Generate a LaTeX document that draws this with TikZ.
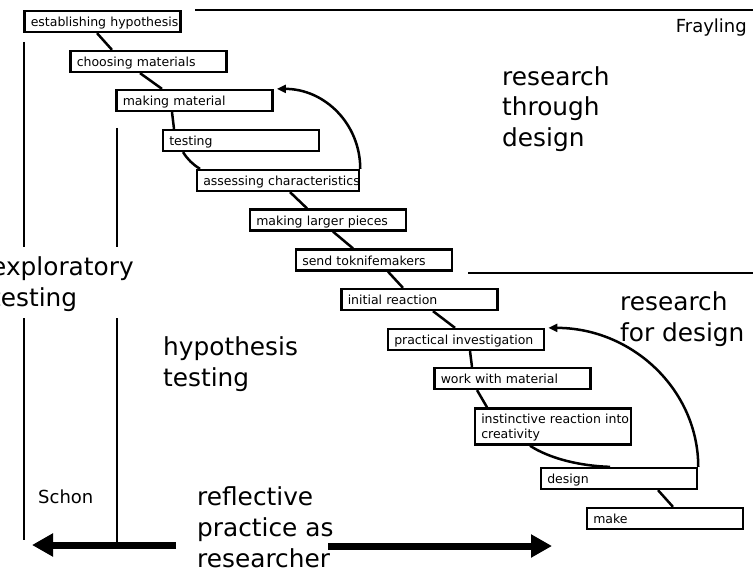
\documentclass[tikz,border=0pt]{standalone}
\usepackage{fontspec}
\setmainfont{DejaVu Sans}
\usetikzlibrary{arrows.meta}
\begin{document}
\begin{tikzpicture}[x=1pt,y=-1pt,
  stepbox/.style={draw, line width=2.5pt, fill=white, inner xsep=6.25pt, inner ysep=3pt,
    text width=143.5pt, align=left, text height=12.5pt, text depth=2.25pt,
    font=\fontsize{12.5}{15}\selectfont},
  link/.style={line width=2.5pt},
  feedback/.style={line width=2.5pt, -{Triangle[length=9pt,width=8pt]}},
  rule/.style={line width=2pt},
  bigarrow/.style={line width=7pt, -{Triangle[length=21pt,width=22pt]}},
  bigtext/.style={align=left, inner sep=0pt, font=\fontsize{24.8}{31}\selectfont},
  midtext/.style={inner sep=0pt, font=\fontsize{18}{22}\selectfont}
]
\useasboundingbox (0,0) rectangle (753,575);
\clip (0,0) rectangle (753,575);

% process steps
\node[stepbox] (b1)  at (102.5,21.5) {\mbox{establishing hypothesis}};
\node[stepbox] (b2)  at (148.5,61.5) {choosing materials};
\node[stepbox] (b3)  at (194.5,100.5) {making material};
\node[stepbox] (b4)  at (241,140.5) {testing};
\node[stepbox, text width=149.5pt] (b5) at (278,180.5) {\mbox{assessing characteristics}};
\node[stepbox] (b6)  at (328,220) {\mbox{making larger pieces}};
\node[stepbox] (b7)  at (374,260) {send toknifemakers};
\node[stepbox] (b8)  at (419.5,299.5) {initial reaction};
\node[stepbox] (b9)  at (466,339.5) {\mbox{practical investigation}};
\node[stepbox] (b10) at (512.5,378.5) {work with material};
\node[stepbox, text height=11.75pt, text depth=18.25pt] (b11) at (553,426.5) {\mbox{instinctive reaction into}\\creativity};
\node[stepbox] (b12) at (619,478.5) {design};
\node[stepbox] (b13) at (665,518.5) {make};

% links between consecutive steps
\draw[link] ([xshift=-5.5pt]b1.south) -- ([xshift=-36.5pt]b2.north);
\draw[link] ([xshift=-8.5pt]b2.south) -- ([xshift=-32.5pt]b3.north);
\draw[link] ([xshift=-22.5pt]b3.south) -- ([xshift=-67pt]b4.north);
\draw[link] ([xshift=-58pt]b4.south) to[bend right=12] ([xshift=-78pt]b5.north);
\draw[link] ([xshift=12pt]b5.south) -- ([xshift=-21pt]b6.north);
\draw[link] ([xshift=5pt]b6.south) -- ([xshift=-21pt]b7.north);
\draw[link] ([xshift=14pt]b7.south) -- ([xshift=-16.5pt]b8.north);
\draw[link] ([xshift=13.5pt]b8.south) -- ([xshift=-11pt]b9.north);
\draw[link] ([xshift=4pt]b9.south) -- ([xshift=-40.5pt]b10.north);
\draw[link] ([xshift=-35.5pt]b10.south) -- ([xshift=-66pt]b11.north);
\draw[link] ([xshift=-23pt]b11.south) .. controls +(20,13) and +(-30,-1) .. ([xshift=-9pt]b12.north);
\draw[link] ([xshift=39pt]b12.south) -- ([xshift=8pt]b13.north);

% loops back
\draw[feedback] (b5.north east) .. controls +(0,-45) and +(48,0) .. ([xshift=3pt]b3.north east);
\draw[feedback] (b12.north east) .. controls +(0,-77) and +(84,0) .. ([xshift=3pt]b9.north east);

% dividing rules
\draw[rule] (195,10) -- (753,10);
\draw[rule] (468,273) -- (753,273);
\draw[rule] (24,42) -- (24,247);
\draw[rule] (24,318) -- (24,540);
\draw[rule] (117,128) -- (117,247);
\draw[rule] (117,318) -- (117,542);

% labels (base anchor sits on the last line)
\node[midtext, anchor=base east] (fray) at (747,33) {Frayling};
\node[bigtext, anchor=base west] (rtd) at (502,147) {research\\through\\design};
\node[bigtext, anchor=base west] (rfd) at (620,341) {research\\for design};
\node[bigtext, anchor=base west] (expl) at (-9,306) {exploratory\\testing};
\node[bigtext, anchor=base west] (hyp) at (163,386) {hypothesis\\testing};
\node[midtext, anchor=base west] (schon) at (38,503) {Schon};
\node[bigtext, anchor=base west] (refl) at (197,567) {reflective\\practice as\\researcher};

% reflective practice arrows
\coordinate (lstart) at (176,545);
\coordinate (lend) at (32,545);
\coordinate (rstart) at (328,546);
\coordinate (rend) at (552,546);
\draw[bigarrow] (lstart) -- (lend);
\draw[bigarrow] (rstart) -- (rend);
\end{tikzpicture}
\end{document}
